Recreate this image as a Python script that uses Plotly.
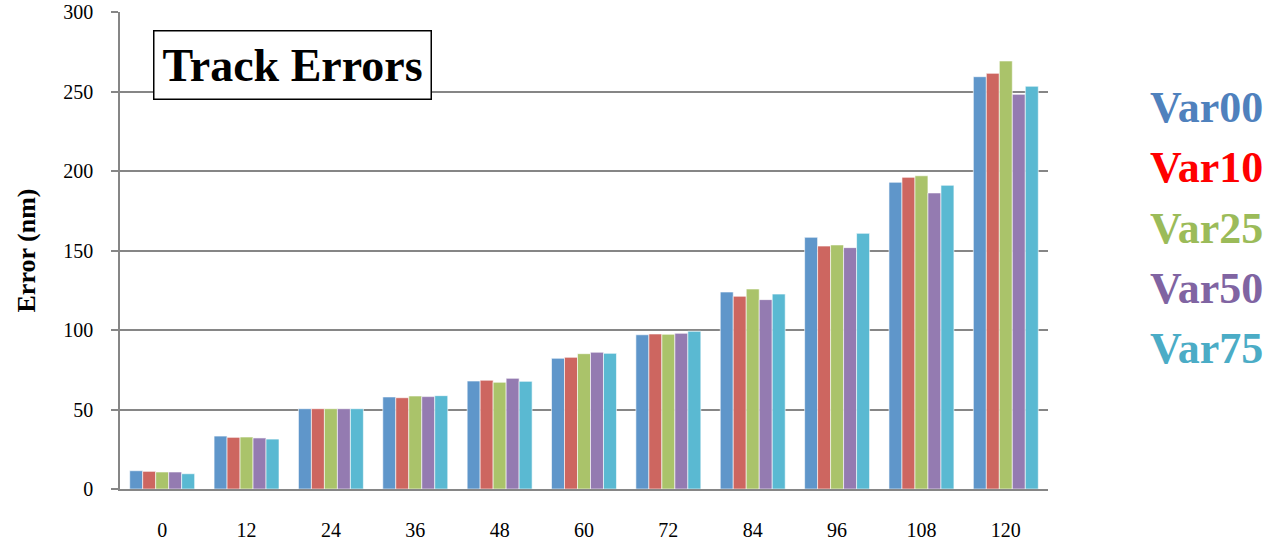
import plotly.graph_objects as go

categories = ["0", "12", "24", "36", "48", "60", "72", "84", "96", "108", "120"]
var00 = [11.5, 33.3, 50.5, 57.9, 67.9, 82.2, 97.0, 123.9, 158.3, 192.9, 259.3]
var10 = [11.1, 32.5, 50.5, 57.4, 68.4, 82.8, 97.5, 121.2, 152.8, 196.0, 261.4]
var25 = [10.7, 32.7, 50.5, 58.5, 67.1, 85.1, 97.3, 125.8, 153.5, 197.0, 269.2]
var50 = [10.7, 32.1, 50.5, 58.1, 69.6, 86.0, 97.9, 119.1, 151.8, 186.2, 248.2]
var75 = [9.6, 31.4, 50.5, 58.7, 67.7, 85.3, 99.2, 122.6, 160.8, 191.0, 253.3]
series_names = ["Var00", "Var10", "Var25", "Var50", "Var75"]
series_values = [var00, var10, var25, var50, var75]
bar_colors = ["#5F96CA", "#CD6660", "#AAC36A", "#947BB1", "#5AB9D2"]
legend_colors = ["#4F81BD", "#FF0000", "#9BBB59", "#8064A2", "#4BACC6"]

SERIF = "Liberation Serif, Times New Roman, serif"

fig = go.Figure()
for name, vals, col in zip(series_names, series_values, bar_colors):
    fig.add_trace(go.Bar(
        x=categories, y=vals, name=name, showlegend=False,
        marker=dict(color=col, line=dict(color="rgba(255,255,255,0.6)", width=1)),
    ))

# legend as coloured text
for i, (name, col) in enumerate(zip(series_names, legend_colors)):
    fig.add_annotation(
        text=f"<b>{name}</b>", xref="paper", yref="paper",
        x=1.108, y=0.800 - i * 0.1265, xanchor="left", yanchor="middle",
        showarrow=False, font=dict(family=SERIF, size=44, color=col),
    )

# title box
fig.add_annotation(
    text="<b>Track Errors</b>", xref="paper", yref="paper",
    x=0.036, y=0.962, xanchor="left", yanchor="top", showarrow=False,
    font=dict(family=SERIF, size=46, color="black"),
    bordercolor="black", borderwidth=1.5, borderpad=8, bgcolor="white",
)

fig.update_layout(
    width=1267, height=546,
    margin=dict(l=120, r=219, t=12, b=57),
    paper_bgcolor="white", plot_bgcolor="white",
    barmode="group", bargap=0.23, bargroupgap=0,
    font=dict(family=SERIF, size=20, color="black"),
)
fig.update_xaxes(
    type="category", range=[-0.5, 10.5], automargin=False,
    showline=True, linecolor="#868686", linewidth=2,
    ticks="", showgrid=False, ticklabelstandoff=22,
    tickfont=dict(family=SERIF, size=20, color="black"),
)
fig.update_yaxes(
    range=[0, 300], dtick=50, tick0=0, automargin=False,
    showline=True, linecolor="#868686", linewidth=1.5,
    ticks="outside", ticklen=7, tickcolor="#868686", tickwidth=1.5,
    showgrid=True, gridcolor="#868686", gridwidth=1.5,
    zeroline=False, ticklabelstandoff=14,
    tickfont=dict(family=SERIF, size=20, color="black"),
    title=dict(text="<b>Error (nm)</b>", font=dict(family=SERIF, size=26, color="black"), standoff=20),
)

fig.write_html("out.html")
